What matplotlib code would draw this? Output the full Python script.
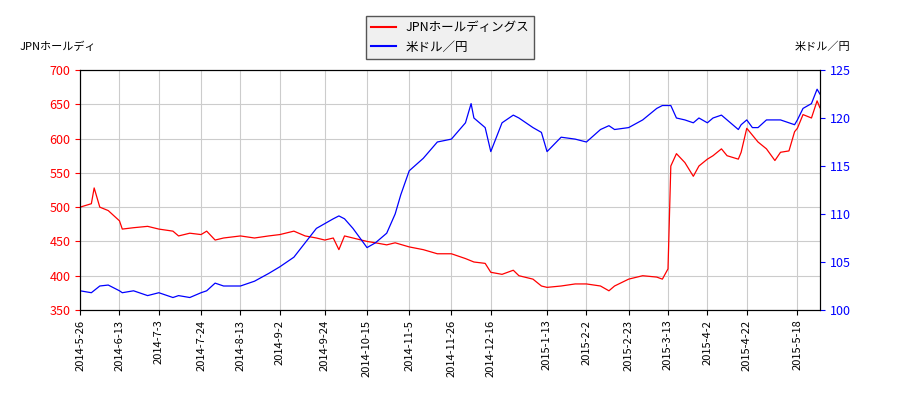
import matplotlib
matplotlib.use("Agg")
import matplotlib.pyplot as plt
import numpy as np

plt.rcParams['font.family'] = ['Noto Sans CJK JP', 'DejaVu Sans']

jpn_dates = ["2014-5-26", "2014-5-30", "2014-6-2", "2014-6-4", "2014-6-9", "2014-6-13", "2014-6-16", "2014-6-20",
             "2014-6-27", "2014-7-3", "2014-7-10", "2014-7-14", "2014-7-18", "2014-7-24", "2014-7-28", "2014-7-31",
             "2014-8-5", "2014-8-13", "2014-8-20", "2014-8-27", "2014-9-2", "2014-9-9", "2014-9-15", "2014-9-19",
             "2014-9-24", "2014-9-29", "2014-10-1", "2014-10-3", "2014-10-8", "2014-10-15", "2014-10-20",
             "2014-10-24", "2014-10-29", "2014-11-5", "2014-11-12", "2014-11-19", "2014-11-26", "2014-12-3",
             "2014-12-8", "2014-12-12", "2014-12-16", "2014-12-22", "2014-12-26", "2014-12-30", "2015-1-6",
             "2015-1-9", "2015-1-13", "2015-1-20", "2015-1-27", "2015-2-2", "2015-2-9", "2015-2-12", "2015-2-16",
             "2015-2-23", "2015-3-2", "2015-3-9", "2015-3-11", "2015-3-13", "2015-3-16", "2015-3-18", "2015-3-23",
             "2015-3-26", "2015-3-30", "2015-4-2", "2015-4-6", "2015-4-9", "2015-4-13", "2015-4-17", "2015-4-20",
             "2015-4-22", "2015-4-24", "2015-4-28", "2015-5-1", "2015-5-6", "2015-5-8", "2015-5-13", "2015-5-15",
             "2015-5-18", "2015-5-20", "2015-5-25", "2015-5-27", "2015-5-28"]
jpn = [500, 505, 528, 500, 495, 480, 468, 470, 472, 468, 465, 458, 462, 460, 465, 452,
       455, 458, 455, 458, 460, 465, 458, 455, 452, 455, 438, 458, 455, 450, 448,
       445, 448, 442, 438, 432, 432, 425, 420, 418, 405, 402, 408, 400, 395,
       385, 383, 385, 388, 388, 385, 378, 385, 395, 400, 398, 395, 410, 560, 578, 565,
       545, 560, 570, 575, 585, 575, 570, 580, 615, 605, 595, 585, 568, 580, 582, 610,
       615, 635, 630, 655, 645]

usd_dates = ["2014-5-26", "2014-5-30", "2014-6-4", "2014-6-9", "2014-6-13", "2014-6-16", "2014-6-20", "2014-6-27",
             "2014-7-3", "2014-7-10", "2014-7-14", "2014-7-18", "2014-7-24", "2014-7-28", "2014-7-31", "2014-8-5",
             "2014-8-13", "2014-8-20", "2014-8-27", "2014-9-2", "2014-9-9", "2014-9-15", "2014-9-19", "2014-9-24",
             "2014-9-29", "2014-10-1", "2014-10-3", "2014-10-8", "2014-10-15", "2014-10-20", "2014-10-24",
             "2014-10-29", "2014-10-31", "2014-11-5", "2014-11-12", "2014-11-19", "2014-11-26", "2014-12-3",
             "2014-12-5", "2014-12-8", "2014-12-12", "2014-12-16", "2014-12-22", "2014-12-26", "2014-12-30",
             "2015-1-6", "2015-1-9", "2015-1-13", "2015-1-20", "2015-1-27", "2015-2-2", "2015-2-9", "2015-2-12",
             "2015-2-16", "2015-2-23", "2015-3-2", "2015-3-9", "2015-3-11", "2015-3-13", "2015-3-16", "2015-3-18",
             "2015-3-23", "2015-3-26", "2015-3-30", "2015-4-2", "2015-4-6", "2015-4-9", "2015-4-13", "2015-4-17",
             "2015-4-20", "2015-4-22", "2015-4-24", "2015-4-28", "2015-5-1", "2015-5-6", "2015-5-8", "2015-5-13",
             "2015-5-15", "2015-5-18", "2015-5-20", "2015-5-25", "2015-5-27", "2015-5-28"]
usd = [102, 101.8, 102.5, 102.6, 102.0, 101.8, 102.0, 101.5, 101.8, 101.3, 101.5, 101.3, 101.8, 102.0,
       102.8, 102.5, 102.5, 103.0, 103.8, 104.5, 105.5, 107.0, 108.5, 109.0, 109.5, 109.8, 109.5, 108.5,
       106.5, 107.0, 108.0, 110, 112, 114.5, 115.8, 117.5, 117.8, 119.5, 121.5, 120.0, 119.0, 116.5,
       119.5, 120.3, 120.0, 119, 118.5, 116.5, 118.0, 117.8, 117.5, 118.8, 119.2, 118.8, 119.0, 119.8,
       121.0, 121.3, 121.3, 121.3, 120.0, 119.8, 119.5, 120.0, 119.5, 120.0, 120.3, 119.8, 118.8, 119.3,
       119.8, 119.0, 119.0, 119.8, 119.8, 119.8, 119.5, 119.3, 119.8, 121.0, 121.5, 123.0, 122.5]

tick_dates = ["2014-5-26", "2014-6-13", "2014-7-3", "2014-7-24", "2014-8-13", "2014-9-2", "2014-9-24",
              "2014-10-15", "2014-11-5", "2014-11-26", "2014-12-16", "2015-1-13", "2015-2-2", "2015-2-23",
              "2015-3-13", "2015-4-2", "2015-4-22", "2015-5-18"]


def bday(dates):
    # x position = trading-day index from the first date
    d = np.array([np.datetime64("-".join(p.zfill(2) for p in s.split("-"))) for s in dates])
    return np.busday_count(np.datetime64("2014-05-26"), d)


fig = plt.figure(figsize=(9, 4), dpi=100)
ax = fig.add_axes([0.089, 0.225, 0.822, 0.6])
ax2 = ax.twinx()

l1, = ax.plot(bday(jpn_dates), jpn, color="red", lw=0.9, label="JPNホールディングス")
l2, = ax2.plot(bday(usd_dates), usd, color="blue", lw=0.9, label="米ドル／円")

ax.set_ylim(350, 700)
ax2.set_ylim(100, 125)
ax.set_xlim(0, bday(["2015-5-28"])[0])
ax.set_xticks(bday(tick_dates))
ax.set_xticklabels(tick_dates, rotation=90, fontsize=8)
ax.grid(True, color="#cccccc", lw=0.8)
ax.tick_params(axis="y", colors="red", labelsize=9)
ax2.tick_params(axis="y", colors="blue", labelsize=9)

fig.text(0.022, 0.875, "JPNホールディ", fontsize=8)
fig.text(0.945, 0.875, "米ドル／円", fontsize=8, ha="right")
leg = fig.legend(handles=[l1, l2], loc="upper center", bbox_to_anchor=(0.5, 0.975), fontsize=9,
                 fancybox=False, edgecolor="#555555", facecolor="#f0f0f0", framealpha=1)
for line in leg.get_lines():
    line.set_linewidth(1.5)

fig.savefig("out.png")
